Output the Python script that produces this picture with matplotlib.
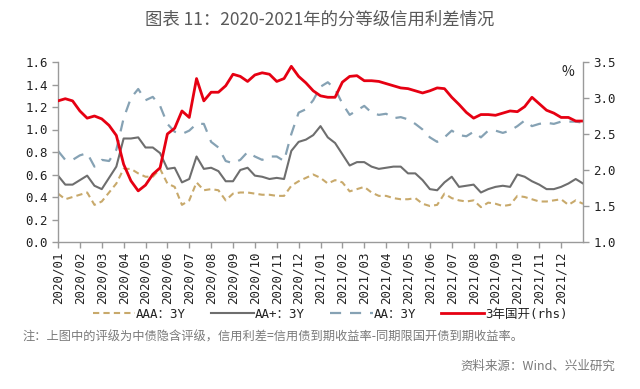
import matplotlib
matplotlib.use("Agg")
import matplotlib.pyplot as plt
import numpy as np

# x positions in months since 2020/01 (one sample every ~10 days)
months_pos = [k / 3 for k in range(73)]

tick_labels = ["2020/01", "2020/02", "2020/03", "2020/04", "2020/05", "2020/06",
               "2020/07", "2020/08", "2020/09", "2020/10", "2020/11", "2020/12",
               "2021/01", "2021/02", "2021/03", "2021/04", "2021/05", "2021/06",
               "2021/07", "2021/08", "2021/09", "2021/10", "2021/11", "2021/12"]

aaa_3y = [0.43, 0.38, 0.40, 0.42, 0.44, 0.33, 0.36, 0.44, 0.52, 0.65, 0.65, 0.61,
          0.58, 0.58, 0.65, 0.52, 0.49, 0.33, 0.37, 0.53, 0.46, 0.47, 0.46, 0.37,
          0.43, 0.44, 0.44, 0.43, 0.42, 0.42, 0.41, 0.41, 0.50, 0.54, 0.57, 0.60,
          0.57, 0.52, 0.55, 0.53, 0.45, 0.47, 0.49, 0.44, 0.41, 0.41, 0.39, 0.38,
          0.38, 0.39, 0.34, 0.32, 0.33, 0.43, 0.39, 0.37, 0.36, 0.37, 0.31, 0.35,
          0.34, 0.32, 0.33, 0.41, 0.40, 0.38, 0.36, 0.36, 0.37, 0.38, 0.33, 0.37,
          0.34]

aap_3y = [0.59, 0.51, 0.51, 0.55, 0.59, 0.50, 0.47, 0.57, 0.67, 0.92, 0.92, 0.93,
          0.84, 0.84, 0.79, 0.65, 0.66, 0.53, 0.56, 0.76, 0.65, 0.66, 0.63, 0.54,
          0.54, 0.64, 0.66, 0.59, 0.58, 0.56, 0.57, 0.56, 0.81, 0.89, 0.91, 0.95,
          1.03, 0.93, 0.88, 0.78, 0.68, 0.71, 0.71, 0.67, 0.65, 0.66, 0.67, 0.67,
          0.61, 0.61, 0.55, 0.47, 0.46, 0.53, 0.58, 0.49, 0.50, 0.51, 0.44, 0.47,
          0.49, 0.50, 0.49, 0.60, 0.58, 0.54, 0.51, 0.47, 0.47, 0.49, 0.52, 0.56,
          0.52]

aa_3y = [0.81, 0.73, 0.73, 0.77, 0.79, 0.67, 0.73, 0.72, 0.82, 1.10, 1.28, 1.36,
         1.26, 1.29, 1.21, 1.05, 0.98, 0.96, 0.99, 1.05, 1.05, 0.89, 0.84, 0.72,
         0.70, 0.73, 0.80, 0.76, 0.73, 0.76, 0.76, 0.72, 0.96, 1.15, 1.18, 1.26,
         1.38, 1.42, 1.36, 1.23, 1.13, 1.17, 1.21, 1.15, 1.13, 1.14, 1.10, 1.11,
         1.09, 1.05, 1.00, 0.93, 0.89, 0.93, 0.99, 0.95, 0.94, 0.98, 0.93, 0.99,
         0.99, 0.97, 0.99, 1.03, 1.08, 1.03, 1.05, 1.06, 1.05, 1.07, 1.07, 1.07,
         1.06]

cdb_3y = [2.96, 2.99, 2.96, 2.82, 2.72, 2.75, 2.71, 2.62, 2.48, 2.08, 1.85, 1.71,
          1.79, 1.94, 2.03, 2.50, 2.58, 2.82, 2.73, 3.27, 2.96, 3.08, 3.08, 3.17,
          3.33, 3.30, 3.23, 3.32, 3.35, 3.33, 3.23, 3.27, 3.44, 3.30, 3.21, 3.10,
          3.03, 3.01, 3.01, 3.22, 3.30, 3.31, 3.24, 3.24, 3.23, 3.20, 3.17, 3.14,
          3.13, 3.10, 3.07, 3.10, 3.14, 3.13, 3.01, 2.91, 2.80, 2.72, 2.77, 2.77,
          2.76, 2.79, 2.82, 2.81, 2.88, 3.01, 2.92, 2.83, 2.79, 2.73, 2.73, 2.68,
          2.68]

series_labels = ["AAA：3Y", "AA+：3Y", "AA：3Y", "3年国开(rhs)"]

C_AAA = "#C8A96B"
C_AAP = "#6E6E6E"
C_AA = "#86A2B4"
C_RED = "#E60012"

CJK = ["Noto Sans CJK SC", "DejaVu Sans"]
MONO = ["DejaVu Sans Mono", "Noto Sans CJK SC"]

fig = plt.figure(figsize=(6.4, 3.89), dpi=100)
ax = fig.add_axes([58 / 640, 1 - 242 / 389, (583 - 58) / 640, (242 - 62) / 389])
ax2 = ax.twinx()

l1, = ax.plot(months_pos, aaa_3y, color=C_AAA, lw=1.5, dashes=(3, 2), label=series_labels[0])
l2, = ax.plot(months_pos, aap_3y, color=C_AAP, lw=1.5, label=series_labels[1])
l3, = ax.plot(months_pos, aa_3y, color=C_AA, lw=1.6, dashes=(5, 4), label=series_labels[2])
l4, = ax2.plot(months_pos, cdb_3y, color=C_RED, lw=2.0, label=series_labels[3])

ax.set_xlim(0, 24)
ax.set_ylim(0, 1.6)
ax2.set_ylim(1.0, 3.5)
ax.set_yticks(np.arange(0, 1.61, 0.2))
ax.set_yticklabels([f"{v:.1f}" for v in np.arange(0, 1.61, 0.2)])
ax2.set_yticks(np.arange(1.0, 3.51, 0.5))
ax2.set_yticklabels([f"{v:.1f}" for v in np.arange(1.0, 3.51, 0.5)])
ax.set_xticks(range(24))
ax.set_xticklabels(tick_labels, rotation=90)

for a in (ax, ax2):
    a.spines["top"].set_visible(False)
    for s in ("left", "right", "bottom"):
        a.spines[s].set_color("#9A9A9A")
        a.spines[s].set_linewidth(1.0)
    a.tick_params(colors="#9A9A9A", labelcolor="#222222", length=4, width=1.0)
    for lab in a.get_yticklabels() + a.get_xticklabels():
        lab.set_family(MONO)
        lab.set_fontsize(9)
ax.spines["right"].set_visible(False)
ax2.spines["left"].set_visible(False)
ax2.spines["bottom"].set_visible(False)
ax.tick_params(axis="x", pad=3)

ax2.text(0.972, 0.945, "%", transform=ax2.transAxes, ha="center", va="center",
         fontsize=10, family=CJK, color="#222222")

fig.text(0.5, 1 - 20 / 389, "图表 11：2020-2021年的分等级信用利差情况", ha="center", va="center",
         fontsize=12.5, family=CJK, color="#595959")

leg = fig.legend([l1, l2, l3, l4], series_labels, loc="center", ncol=4,
                 bbox_to_anchor=(330 / 640, 1 - 314 / 389), frameon=False,
                 prop={"family": MONO, "size": 9}, handlelength=3.4,
                 handletextpad=0.1, columnspacing=2.0)
for t in leg.get_texts():
    t.set_color("#222222")

fig.text(22 / 640, 1 - 337 / 389, "注：上图中的评级为中债隐含评级，信用利差=信用债到期收益率-同期限国开债到期收益率。",
         ha="left", va="center", fontsize=8.8, family=CJK, color="#7A7A7A")
fig.text(615 / 640, 1 - 366 / 389, "资料来源：Wind、兴业研究", ha="right", va="center",
         fontsize=9, family=CJK, color="#7A7A7A")

fig.savefig("out.png", dpi=100)
